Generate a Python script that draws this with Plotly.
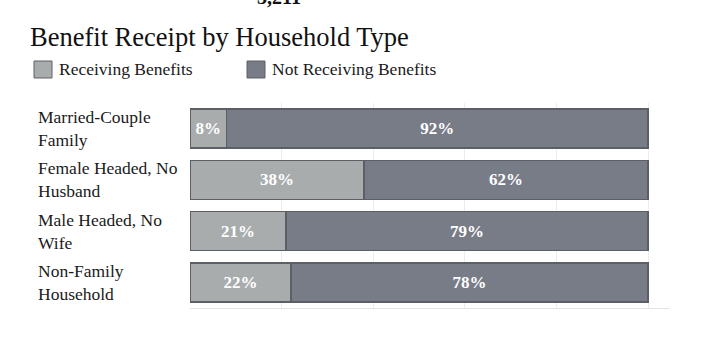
import plotly.graph_objects as go

categories = ["Married-Couple<br>Family", "Female Headed, No<br>Husband", "Male Headed, No<br>Wife", "Non-Family<br>Household"]
receiving = [8, 38, 21, 22]
not_receiving = [92, 62, 79, 78]
series_names = ["Receiving Benefits", "Not Receiving Benefits"]
colors = ["#a9acad", "#787c87"]
title_text = "Benefit Receipt by Household Type"
top_label = "3,211"

W, H = 704, 350
L, R, T, B = 190, 670, 103, 308
SERIF = "Liberation Serif, Times New Roman, serif"


def px(x):
    return (x - L) / (R - L)


def py(y):
    return (B - y) / (B - T)


fig = go.Figure()
for name, vals, col in zip(series_names, [receiving, not_receiving], colors):
    fig.add_trace(go.Bar(
        y=categories, x=vals, name=name, orientation="h",
        marker=dict(color=col, line=dict(color="#5c5f65", width=1.5)),
        texttemplate="<b>%{x}%</b>", textposition="inside", insidetextanchor="middle",
        textfont=dict(family=SERIF, size=17, color="white"),
        showlegend=False, hoverinfo="skip",
    ))

annotations = []
shapes = []
# category labels (left-aligned)
for c in categories:
    annotations.append(dict(x=px(36), y=c, xref="paper", yref="y", text=c, showarrow=False,
                            xanchor="left", yanchor="middle", align="left",
                            font=dict(family=SERIF, size=17.5, color="#1a1a1a")))
# title
annotations.append(dict(x=px(28), y=py(37), xref="paper", yref="paper", text=title_text,
                        showarrow=False, xanchor="left", yanchor="middle",
                        font=dict(family=SERIF, size=26.5, color="#111111")))
# cut-off top label
annotations.append(dict(x=px(279), y=py(-3), xref="paper", yref="paper", text="<b>" + top_label + "</b>",
                        showarrow=False, xanchor="center", yanchor="middle",
                        font=dict(family=SERIF, size=20, color="#111111")))
# legend
leg_x = [34, 247]
for lx, name, col in zip(leg_x, series_names, colors):
    shapes.append(dict(type="rect", xref="paper", yref="paper", x0=px(lx), x1=px(lx + 18),
                       y0=py(78), y1=py(61), fillcolor=col, line=dict(color="#5f6166", width=1)))
    annotations.append(dict(x=px(lx + 23), y=py(68.5), xref="paper", yref="paper", text=name,
                            showarrow=False, xanchor="left", yanchor="middle",
                            font=dict(family=SERIF, size=17.5, color="#1a1a1a")))

fig.update_layout(
    barmode="stack", bargap=0.24,
    width=W, height=H,
    margin=dict(l=L, r=W - R, t=T, b=H - B, pad=0),
    plot_bgcolor="white", paper_bgcolor="white",
    xaxis=dict(range=[0, 104.8], tickvals=[0, 20, 40, 60, 80, 100], showticklabels=False,
               showgrid=True, gridcolor="#ececec", gridwidth=1, zeroline=False,
               showline=True, linecolor="#e3e3e3", linewidth=1, fixedrange=True),
    yaxis=dict(autorange="reversed", showticklabels=False, showgrid=False, zeroline=False,
               fixedrange=True),
    annotations=annotations, shapes=shapes,
    uniformtext=dict(minsize=10, mode="show"),
)

fig.write_html("out.html", config={"displayModeBar": False})
